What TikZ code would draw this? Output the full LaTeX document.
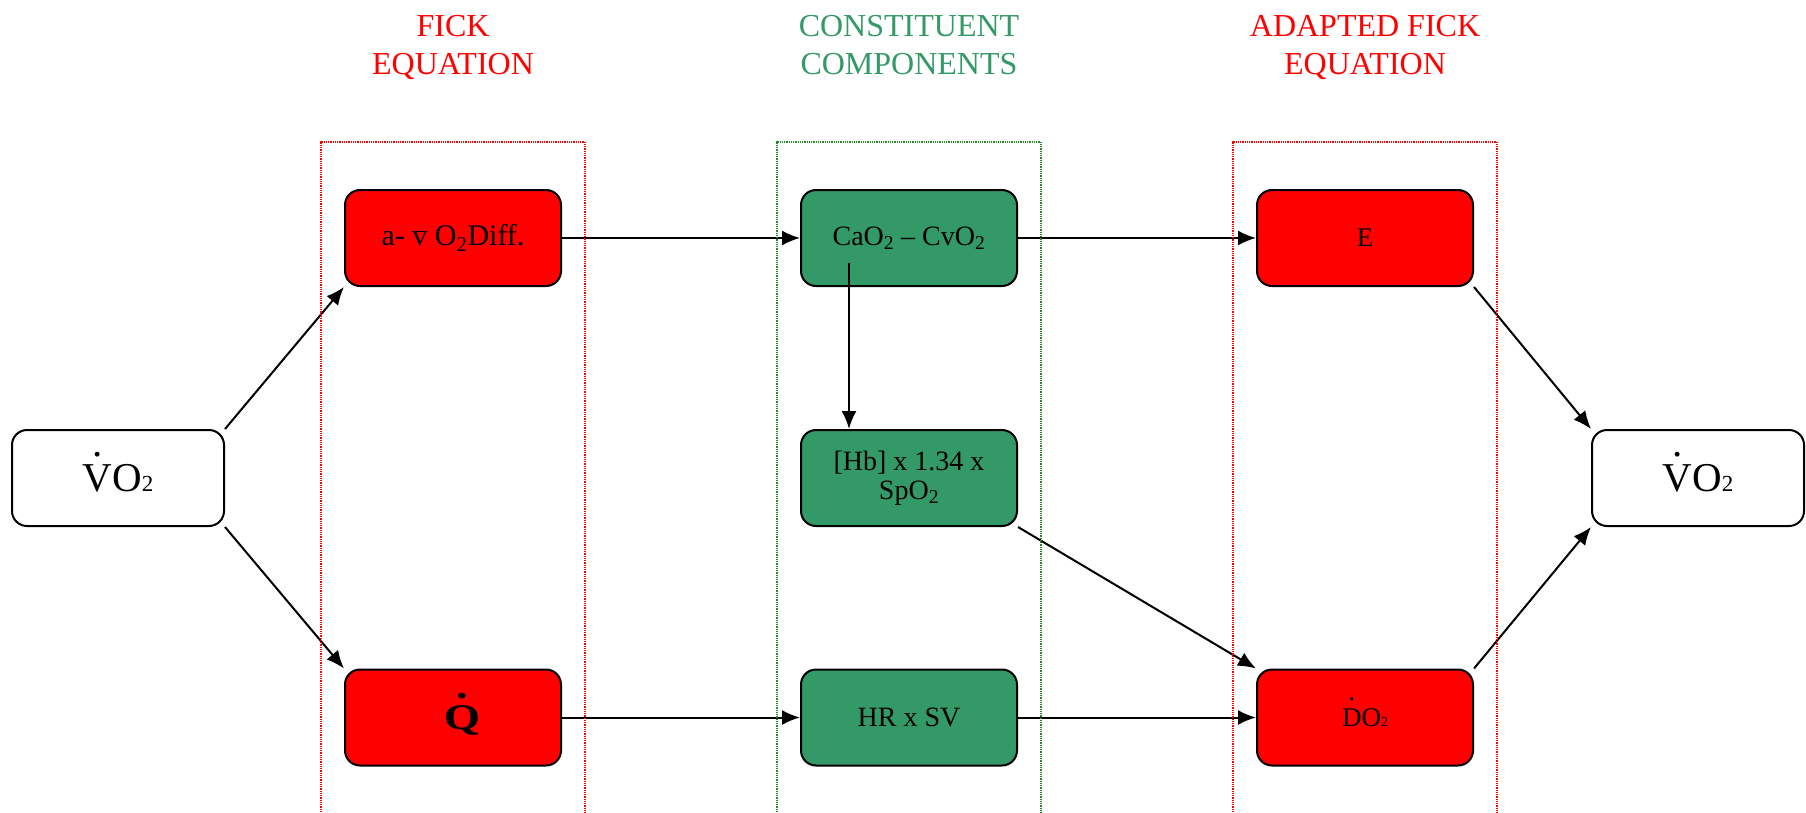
\documentclass[tikz,border=0pt]{standalone}
\usepackage{fontspec}
\usepackage{graphicx}
\setmainfont{Liberation Serif}
\usetikzlibrary{arrows.meta}
\definecolor{boxred}{RGB}{255,0,0}
\definecolor{boxgreen}{RGB}{51,153,102}
\definecolor{framegreen}{RGB}{30,140,30}
\newcommand\dotabove[1]{\ooalign{#1\cr\hidewidth\smash{\raisebox{0.85em}{.}}\hidewidth\cr}}
\newcommand\dotaboveD[1]{\ooalign{#1\cr\hidewidth\smash{\raisebox{0.95em}{.}}\hidewidth\cr}}
\newcommand\fs[2]{\fontsize{#1}{#2}\selectfont}
\begin{document}
\begin{tikzpicture}[x=1pt,y=-1pt,
  box/.style={draw=black,line width=2pt,rounded corners=15pt,minimum width=216pt,minimum height=96pt,inner sep=0pt,align=center,text=black,font=\fs{28}{29}},
  redbox/.style={box,fill=boxred},
  greenbox/.style={box,fill=boxgreen},
  whitebox/.style={box,fill=white,minimum width=212pt},
  conn/.style={line width=2pt,-{Latex[length=18pt,width=15pt]}},
  frame/.style={line width=1.5pt,dash pattern=on 1pt off 0.8pt},
  title/.style={anchor=north,inner sep=0pt,align=center,font=\fs{32}{38}}
]
\useasboundingbox (0,0) rectangle (1806,812);

% titles
\node[title,text=red] (t1) at (453,15) {FICK\\EQUATION};
\node[title,text=boxgreen] (t2) at (909,15) {CONSTITUENT\\COMPONENTS};
\node[title,text=red] (t3) at (1365,15) {ADAPTED FICK\\EQUATION};

% nodes
\node[whitebox,font=\fs{41}{45}] (vl) at (118,478) {\dotabove{V}O{\fs{23}{25}2}};
\node[whitebox,font=\fs{41}{45}] (vr) at (1698,478) {\dotabove{V}O{\fs{23}{25}2}};
\node[redbox,font=\fs{30}{32}] (av) at (453,238) {a- $\overline{\hbox{v}}$ O\textsubscript{2}Diff.};
\node[redbox,font=\fs{36}{40}] (q) at (453,717.5) {\hspace*{18pt}\scalebox{1.3}[1]{\bfseries\dotabove{Q}}};
\node[greenbox] (ca) at (909,238) {CaO\textsubscript{2} – CvO\textsubscript{2}};
\node[greenbox] (hb) at (909,478) {[Hb] x 1.34 x\\SpO\textsubscript{2}};
\node[greenbox] (hr) at (909,717.5) {HR x SV};
\node[redbox,font=\fs{27}{30}] (e) at (1365,238) {E};
\node[redbox,font=\fs{27}{30}] (d) at (1365,717.5) {\dotaboveD{D}O{\fs{14}{16}2}};

\coordinate (castart) at (849,263);

% connectors
\draw[conn] (vl.north east) -- (av.south west);
\draw[conn] (vl.south east) -- (q.north west);
\draw[conn] (av.east) -- (ca.west);
\draw[conn] (q.east) -- (hr.west);
\draw[conn] (castart) -- (castart |- hb.north);
\draw[conn] (ca.east) -- (e.west);
\draw[conn] (hb.south east) -- (d.north west);
\draw[conn] (hr.east) -- (d.west);
\draw[conn] (e.south east) -- (vr.north west);
\draw[conn] (d.north east) -- (vr.south west);

% group frames (open at the bottom)
\draw[frame,red] (321,812) -- (321,142) -- (585,142) -- (585,812);
\draw[frame,framegreen] (777,812) -- (777,142) -- (1041,142) -- (1041,812);
\draw[frame,red] (1233,812) -- (1233,142) -- (1497,142) -- (1497,812);
\end{tikzpicture}
\end{document}
